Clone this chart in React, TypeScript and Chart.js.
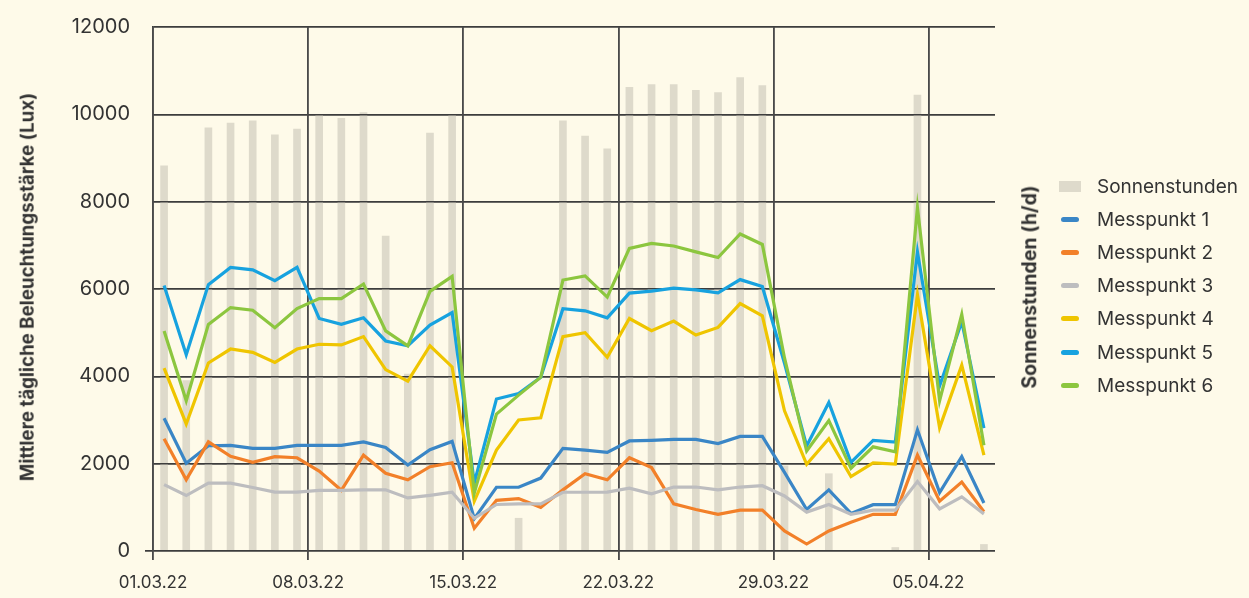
import React, { useEffect, useRef } from "react";
import { Chart, registerables } from "chart.js";

Chart.register(...registerables);

// ---- data ----
const days = [
  "01.03.22", "02.03.22", "03.03.22", "04.03.22", "05.03.22", "06.03.22", "07.03.22",
  "08.03.22", "09.03.22", "10.03.22", "11.03.22", "12.03.22", "13.03.22", "14.03.22",
  "15.03.22", "16.03.22", "17.03.22", "18.03.22", "19.03.22", "20.03.22", "21.03.22",
  "22.03.22", "23.03.22", "24.03.22", "25.03.22", "26.03.22", "27.03.22", "28.03.22",
  "29.03.22", "30.03.22", "31.03.22", "01.04.22", "02.04.22", "03.04.22", "04.04.22",
  "05.04.22", "06.04.22", "07.04.22",
];
const weekTickIndex = [0, 7, 14, 21, 28, 35];
const weekTickLabels = ["01.03.22", "08.03.22", "15.03.22", "22.03.22", "29.03.22", "05.04.22"];

const sunHours = [
  8.82, 3.9, 9.69, 9.8, 9.85, 9.53, 9.66, 9.99, 9.91, 10.04, 7.21, 4.05, 9.57, 9.99,
  0, 0, 0.75, 0, 9.85, 9.5, 9.21, 10.62, 10.68, 10.68, 10.55, 10.5, 10.84, 10.66,
  1.95, 0, 1.77, 0, 0, 0.08, 10.44, 0, 0, 0.15,
];
const messpunkt1 = [
  3040, 2010, 2410, 2420, 2350, 2350, 2420, 2420, 2420, 2500, 2370, 1970, 2320, 2510,
  740, 1460, 1460, 1670, 2350, 2310, 2260, 2520, 2535, 2555, 2555, 2460, 2625, 2625,
  1800, 950, 1400, 860, 1060, 1060, 2775, 1340, 2160, 1100,
];
const messpunkt2 = [
  2570, 1630, 2500, 2170, 2030, 2160, 2135, 1830, 1390, 2195, 1780, 1630, 1930, 2020,
  520, 1160, 1200, 1000, 1400, 1770, 1630, 2135, 1910, 1080, 950, 840, 935, 935,
  460, 160, 460, 660, 840, 840, 2195, 1140, 1580, 900,
];
const messpunkt3 = [
  1520, 1270, 1555, 1555, 1455, 1350, 1350, 1390, 1390, 1400, 1400, 1215, 1275, 1345,
  750, 1065, 1080, 1080, 1345, 1345, 1350, 1440, 1310, 1465, 1465, 1400, 1465, 1495,
  1260, 890, 1065, 840, 935, 935, 1590, 965, 1240, 850,
];
const messpunkt4 = [
  4190, 2910, 4305, 4625, 4550, 4320, 4625, 4735, 4720, 4910, 4155, 3890, 4700, 4215,
  1140, 2310, 3000, 3050, 4910, 5000, 4435, 5325, 5045, 5265, 4945, 5120, 5665, 5385,
  3210, 1985, 2570, 1705, 2020, 1990, 5870, 2820, 4255, 2195,
];
const messpunkt5 = [
  6080, 4495, 6100, 6495, 6440, 6190, 6495, 5325, 5190, 5340, 4810, 4700, 5175, 5460,
  1560, 3480, 3605, 3980, 5550, 5500, 5340, 5905, 5950, 6020, 5980, 5910, 6215, 6055,
  4300, 2405, 3400, 2030, 2535, 2495, 6850, 3780, 5250, 2815,
];
const messpunkt6 = [
  5040, 3440, 5190, 5575, 5515, 5115, 5550, 5780, 5780, 6115, 5040, 4700, 5945, 6290,
  1330, 3135, 3570, 3980, 6205, 6300, 5815, 6930, 7045, 6985, 6850, 6720, 7260, 7020,
  4420, 2290, 2985, 1895, 2385, 2270, 7865, 3440, 5415, 2420,
];

const seriesNames = ["Messpunkt 1", "Messpunkt 2", "Messpunkt 3", "Messpunkt 4", "Messpunkt 5", "Messpunkt 6"];
const seriesValues = [messpunkt1, messpunkt2, messpunkt3, messpunkt4, messpunkt5, messpunkt6];
const seriesColors = ["#3a86c6", "#f28029", "#bdbdbf", "#efc500", "#17a2df", "#8cc63f"];
const barName = "Sonnenstunden";
const barColor = "#dedacb";
const leftTitle = "Mittlere tägliche Beleuchtungsstärke (Lux)";
const rightTitle = "Sonnenstunden (h/d)";

const BG = "#fefae9";
const TEXT = "#333333";
const GRID = "#3d3d3d";
const FONT = "Inter, 'Open Sans', sans-serif";

// redraw grid above the bars but below the lines
const gridOverBars = {
  id: "gridOverBars",
  afterDatasetDraw(chart: any, args: any) {
    if (args.index !== 0) return;
    chart.scales.y.drawGrid(chart.chartArea);
    chart.scales.x.drawGrid(chart.chartArea);
  },
};

export default function App() {
  const canvasRef = useRef<HTMLCanvasElement | null>(null);

  useEffect(() => {
    document.body.style.margin = "0";
    document.body.style.background = BG;
    const canvas = canvasRef.current;
    if (!canvas) return;

    const toPoints = (arr: number[]) => arr.map((v, i) => ({ x: i + 0.5, y: v }));

    const lineSets = seriesValues.map((vals, k) => ({
      type: "line" as const,
      label: seriesNames[k],
      data: toPoints(vals),
      borderColor: seriesColors[k],
      backgroundColor: seriesColors[k],
      borderWidth: 3.2,
      pointRadius: 0,
      tension: 0,
      fill: false,
      yAxisID: "y",
      order: 7 - k,
    }));

    const chart = new Chart(canvas, {
      type: "line",
      data: {
        datasets: [
          {
            type: "bar" as const,
            label: barName,
            data: toPoints(sunHours),
            backgroundColor: barColor,
            borderWidth: 0,
            barThickness: 7,
            yAxisID: "y1",
            order: 20,
          } as any,
          ...lineSets,
        ],
      },
      plugins: [gridOverBars],
      options: {
        responsive: false,
        animation: false,
        events: [],
        layout: { padding: { left: 0, right: 254, top: 14, bottom: 0 } },
        plugins: { legend: { display: false }, tooltip: { enabled: false } },
        scales: {
          x: {
            type: "linear",
            min: 0,
            max: days.length,
            offset: false,
            afterBuildTicks: (scale: any) => {
              scale.ticks = weekTickIndex.map((v) => ({ value: v }));
            },
            afterFit: (scale: any) => {
              scale.height = 47;
            },
            grid: {
              offset: false,
              color: "#4a4a4a",
              lineWidth: 1.6,
              drawTicks: true,
              tickLength: 9,
              tickColor: "#4a4a4a",
            },
            border: { display: false },
            ticks: {
              autoSkip: false,
              maxRotation: 0,
              padding: 13,
              color: TEXT,
              font: { family: FONT, size: 17 },
              callback: (v: any) => {
                const idx = weekTickIndex.indexOf(Number(v));
                return idx >= 0 ? weekTickLabels[idx] : "";
              },
            },
          },
          y: {
            type: "linear",
            position: "left",
            min: 0,
            max: 12000,
            afterFit: (scale: any) => {
              scale.width = 153;
            },
            ticks: {
              stepSize: 2000,
              padding: 15,
              color: TEXT,
              font: { family: FONT, size: 20 },
              callback: (v: any) => String(v),
            },
            grid: {
              color: GRID,
              lineWidth: 1.5,
              drawTicks: true,
              tickLength: 8,
              tickColor: (ctx: any) => (ctx.tick && ctx.tick.value === 0 ? GRID : "rgba(0,0,0,0)"),
            },
            border: { display: true, color: GRID, width: 1.5 },
            title: { display: false },
          },
          y1: {
            type: "linear",
            display: false,
            min: 0,
            max: 12,
          },
        },
      } as any,
    });

    return () => chart.destroy();
  }, []);

  const legendItems = [
    { name: barName, color: barColor, kind: "bar" },
    ...seriesNames.map((n, k) => ({ name: n, color: seriesColors[k], kind: "line" })),
  ];

  const rotated = (x: number, y: number): React.CSSProperties => ({
    position: "absolute",
    left: x,
    top: y,
    transform: "translate(-50%, -50%) rotate(-90deg)",
    whiteSpace: "nowrap",
    fontFamily: FONT,
    fontWeight: 700,
    color: TEXT,
    lineHeight: 1,
  });

  return (
    <div style={{ position: "relative", width: 1249, height: 598, background: BG, overflow: "hidden" }}>
      <canvas ref={canvasRef} width={1249} height={598} style={{ display: "block" }} />
      <div style={{ ...rotated(28, 287), fontSize: 18.7 }}>{leftTitle}</div>
      <div style={{ ...rotated(1030, 287), fontSize: 19.5 }}>{rightTitle}</div>
      {legendItems.map((it, i) => (
        <div
          key={it.name}
          style={{
            position: "absolute",
            left: 1059,
            top: 186 + i * 33.2 - 12,
            height: 24,
            display: "flex",
            alignItems: "center",
            fontFamily: FONT,
            fontSize: 19,
            color: TEXT,
            whiteSpace: "nowrap",
          }}
        >
          <div style={{ width: 22, display: "flex", justifyContent: "center" }}>
            {it.kind === "bar" ? (
              <div style={{ width: 22, height: 11, background: it.color }} />
            ) : (
              <div style={{ width: 18, height: 5, borderRadius: 3, background: it.color }} />
            )}
          </div>
          <span style={{ marginLeft: 16 }}>{it.name}</span>
        </div>
      ))}
    </div>
  );
}
